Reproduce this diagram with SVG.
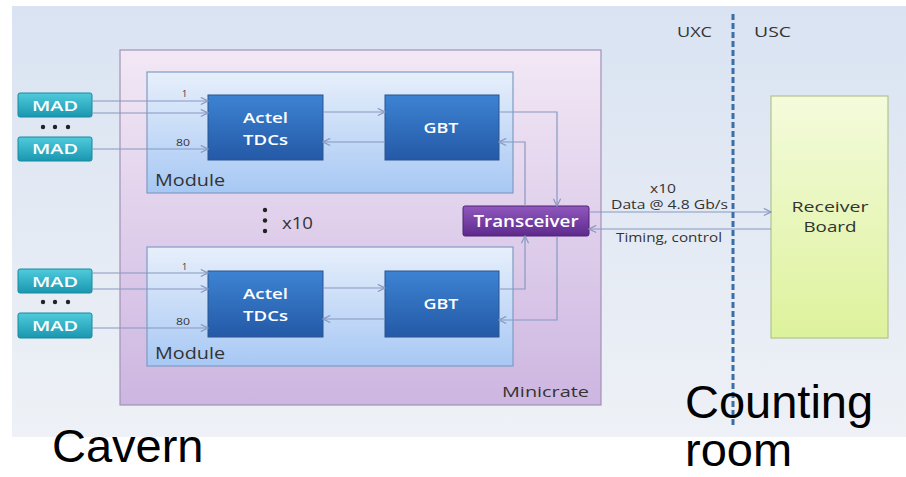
<svg xmlns="http://www.w3.org/2000/svg" width="906" height="477" viewBox="0 0 906 477">
<defs>
<linearGradient id="gBg" x1="0" y1="0" x2="0" y2="1"><stop offset="0" stop-color="#d9e3f2"/><stop offset="1" stop-color="#eef1f6"/></linearGradient>
<linearGradient id="gMini" x1="0" y1="0" x2="0" y2="1"><stop offset="0" stop-color="#f2e8f5"/><stop offset="1" stop-color="#cdb6e1"/></linearGradient>
<linearGradient id="gMod" x1="0" y1="0" x2="0" y2="1"><stop offset="0" stop-color="#e7effb"/><stop offset="1" stop-color="#a7c8f4"/></linearGradient>
<linearGradient id="gBlue" x1="0" y1="0" x2="0" y2="1"><stop offset="0" stop-color="#3d83d3"/><stop offset="1" stop-color="#2459a6"/></linearGradient>
<linearGradient id="gTeal" x1="0" y1="0" x2="0" y2="1"><stop offset="0" stop-color="#4fcbdc"/><stop offset="1" stop-color="#1a97b0"/></linearGradient>
<linearGradient id="gPurple" x1="0" y1="0" x2="0" y2="1"><stop offset="0" stop-color="#9158bd"/><stop offset="1" stop-color="#5d2a8c"/></linearGradient>
<linearGradient id="gRecv" x1="0" y1="0" x2="0" y2="1"><stop offset="0" stop-color="#f4fbdc"/><stop offset="1" stop-color="#ddf29c"/></linearGradient>
<marker id="arr" viewBox="0 0 10 10" refX="9" refY="5" markerWidth="9" markerHeight="9" orient="auto" markerUnits="userSpaceOnUse"><path d="M1,1 L9,5 L1,9" fill="none" stroke="#8798c0" stroke-width="1.3"/></marker>
</defs>
<style>
.lbl{font-family:"Open Sans","Liberation Sans",sans-serif;fill:#333}
.wt{font-family:"Open Sans","Liberation Sans",sans-serif;fill:#fff;font-weight:600}
.big{font-family:"Liberation Sans",Arial,sans-serif;font-size:47px;fill:#000}
.blk{fill:url(#gBlue);stroke:#2a5590;stroke-width:1}
.mad{fill:url(#gTeal);stroke:#178aa0;stroke-width:1}
.mod{fill:url(#gMod);stroke:#7f9cc4;stroke-width:1.2}
.conn{fill:none;stroke:#8798c0;stroke-width:1.2}
</style>
<rect width="906" height="477" fill="#ffffff"/>
<rect id="panel" x="12" y="6" width="894" height="431" fill="url(#gBg)"/>

<g id="minicrate">
<rect x="120" y="50" width="481" height="355" fill="url(#gMini)" stroke="#a292b6" stroke-width="1.2"/>
<text class="lbl" x="589" y="397" font-size="14" text-anchor="end" textLength="87" lengthAdjust="spacingAndGlyphs">Minicrate</text>
</g>

<g id="module1">
<rect class="mod" x="147" y="72" width="366" height="121"/>
<text class="lbl" x="155" y="186" font-size="16" textLength="70" lengthAdjust="spacingAndGlyphs">Module</text>
</g>
<g id="module2">
<rect class="mod" x="147" y="247" width="366" height="119"/>
<text class="lbl" x="155" y="359" font-size="16" textLength="70" lengthAdjust="spacingAndGlyphs">Module</text>
</g>

<g id="repeat">
<circle cx="265" cy="210" r="2.2" fill="#222"/>
<circle cx="265" cy="220.5" r="2.2" fill="#222"/>
<circle cx="265" cy="231" r="2.2" fill="#222"/>
<text class="lbl" x="282" y="229" font-size="16" textLength="31" lengthAdjust="spacingAndGlyphs">x10</text>
</g>

<g id="mad1"><rect class="mad" x="18" y="93" width="74" height="24" rx="2"/><text class="wt" x="55" y="111" font-size="14" text-anchor="middle" textLength="46" lengthAdjust="spacingAndGlyphs">MAD</text></g>
<g id="mad2"><rect class="mad" x="18" y="137" width="74" height="24" rx="2"/><text class="wt" x="55" y="154" font-size="14" text-anchor="middle" textLength="46" lengthAdjust="spacingAndGlyphs">MAD</text></g>
<g id="dots1"><circle cx="43" cy="127" r="2.2" fill="#222"/><circle cx="55" cy="127" r="2.2" fill="#222"/><circle cx="68" cy="127" r="2.2" fill="#222"/></g>
<g id="mad3"><rect class="mad" x="18" y="269" width="74" height="24" rx="2"/><text class="wt" x="55" y="287" font-size="14" text-anchor="middle" textLength="46" lengthAdjust="spacingAndGlyphs">MAD</text></g>
<g id="mad4"><rect class="mad" x="18" y="313" width="74" height="25" rx="2"/><text class="wt" x="55" y="331" font-size="14" text-anchor="middle" textLength="46" lengthAdjust="spacingAndGlyphs">MAD</text></g>
<g id="dots2"><circle cx="43" cy="302" r="2.2" fill="#222"/><circle cx="55" cy="302" r="2.2" fill="#222"/><circle cx="68" cy="302" r="2.2" fill="#222"/></g>

<g id="actel1"><rect class="blk" x="208" y="95" width="115" height="65"/><text class="wt" x="265.5" y="123" font-size="15" text-anchor="middle" textLength="45" lengthAdjust="spacingAndGlyphs">Actel</text><text class="wt" x="265.5" y="145" font-size="15" text-anchor="middle" textLength="45" lengthAdjust="spacingAndGlyphs">TDCs</text></g>
<g id="gbt1"><rect class="blk" x="385" y="95" width="114" height="65"/><text class="wt" x="441" y="133" font-size="15" text-anchor="middle" textLength="35" lengthAdjust="spacingAndGlyphs">GBT</text></g>
<g id="actel2"><rect class="blk" x="208" y="271" width="115" height="66"/><text class="wt" x="265.5" y="299" font-size="15" text-anchor="middle" textLength="45" lengthAdjust="spacingAndGlyphs">Actel</text><text class="wt" x="265.5" y="321" font-size="15" text-anchor="middle" textLength="45" lengthAdjust="spacingAndGlyphs">TDCs</text></g>
<g id="gbt2"><rect class="blk" x="385" y="271" width="114" height="66"/><text class="wt" x="441" y="309" font-size="15" text-anchor="middle" textLength="35" lengthAdjust="spacingAndGlyphs">GBT</text></g>

<g id="transceiver"><rect x="463" y="206" width="126" height="30" rx="2" fill="url(#gPurple)" stroke="#4e2279" stroke-width="1"/><text class="wt" x="526" y="227" font-size="16" text-anchor="middle" textLength="105" lengthAdjust="spacingAndGlyphs">Transceiver</text></g>

<g id="receiver"><rect x="771" y="96" width="117" height="242" fill="url(#gRecv)" stroke="#b3c48e" stroke-width="1.2"/><text class="lbl" x="830" y="212" font-size="15" text-anchor="middle" textLength="77" lengthAdjust="spacingAndGlyphs">Receiver</text><text class="lbl" x="830" y="232" font-size="15" text-anchor="middle" textLength="53" lengthAdjust="spacingAndGlyphs">Board</text></g>

<g id="connectors">
<path class="conn" d="M92,101 H208" marker-end="url(#arr)"/>
<path class="conn" d="M92,113 H208" marker-end="url(#arr)"/>
<path class="conn" d="M92,149 H208" marker-end="url(#arr)"/>
<path class="conn" d="M323,112 H385" marker-end="url(#arr)"/>
<path class="conn" d="M385,142 H323" marker-end="url(#arr)"/>
<path class="conn" d="M92,273 H208" marker-end="url(#arr)"/>
<path class="conn" d="M92,289 H208" marker-end="url(#arr)"/>
<path class="conn" d="M92,328 H208" marker-end="url(#arr)"/>
<path class="conn" d="M323,288 H385" marker-end="url(#arr)"/>
<path class="conn" d="M385,319 H323" marker-end="url(#arr)"/>
<path class="conn" d="M499,112 H557 V206" marker-end="url(#arr)"/>
<path class="conn" d="M525,206 V142 H499" marker-end="url(#arr)"/>
<path class="conn" d="M499,289 H525 V236" marker-end="url(#arr)"/>
<path class="conn" d="M557,236 V320 H499" marker-end="url(#arr)"/>
<path class="conn" d="M589,212 H771" marker-end="url(#arr)"/>
<path class="conn" d="M771,229 H589" marker-end="url(#arr)"/>
<text class="lbl" x="182" y="97" font-size="9">1</text>
<text class="lbl" x="176" y="146" font-size="9" textLength="14" lengthAdjust="spacingAndGlyphs">80</text>
<text class="lbl" x="182" y="270" font-size="9">1</text>
<text class="lbl" x="176" y="325" font-size="9" textLength="14" lengthAdjust="spacingAndGlyphs">80</text>
<text class="lbl" x="663" y="193" font-size="12" text-anchor="middle" textLength="26" lengthAdjust="spacingAndGlyphs">x10</text>
<text class="lbl" x="669.5" y="209" font-size="12" text-anchor="middle" textLength="117" lengthAdjust="spacingAndGlyphs">Data @ 4.8 Gb/s</text>
<text class="lbl" x="669" y="242" font-size="12" text-anchor="middle" textLength="106" lengthAdjust="spacingAndGlyphs">Timing, control</text>
</g>

<g id="boundary">
<line x1="733" y1="14" x2="733" y2="426" stroke="#3a6ea9" stroke-width="3" stroke-dasharray="6 3"/>
<text class="lbl" x="677" y="37" font-size="14" textLength="35" lengthAdjust="spacingAndGlyphs">UXC</text>
<text class="lbl" x="754" y="37" font-size="14" textLength="37" lengthAdjust="spacingAndGlyphs">USC</text>
</g>

<g id="areas">
<text class="big" x="52" y="462">Cavern</text>
<text class="big" x="685" y="418">Counting</text>
<text class="big" x="685" y="466">room</text>
</g>
</svg>
